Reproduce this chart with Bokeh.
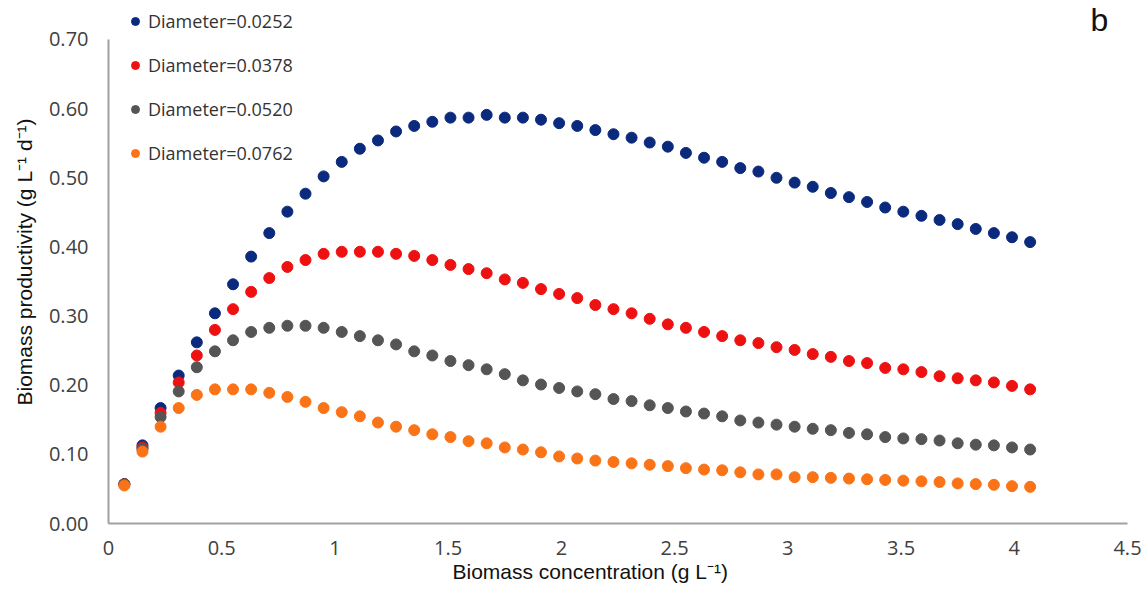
from bokeh.plotting import figure
from bokeh.models import Range1d, FixedTicker, Legend, LegendItem, Label, Title
from bokeh.embed import file_html
from bokeh.resources import INLINE

# ---- data ----
biomass_conc = [0.07, 0.15, 0.23, 0.31, 0.39, 0.47, 0.55, 0.63, 0.71, 0.79,
                0.87, 0.95, 1.03, 1.11, 1.19, 1.27, 1.35, 1.43, 1.51, 1.59,
                1.67, 1.75, 1.83, 1.91, 1.99, 2.07, 2.15, 2.23, 2.31, 2.39,
                2.47, 2.55, 2.63, 2.71, 2.79, 2.87, 2.95, 3.03, 3.11, 3.19,
                3.27, 3.35, 3.43, 3.51, 3.59, 3.67, 3.75, 3.83, 3.91, 3.99,
                4.07]

prod_d0252 = [0.057, 0.113, 0.167, 0.214, 0.262, 0.304, 0.346, 0.386, 0.420, 0.451,
              0.477, 0.502, 0.523, 0.542, 0.554, 0.567, 0.575, 0.581, 0.587, 0.587,
              0.591, 0.587, 0.587, 0.584, 0.579, 0.575, 0.569, 0.563, 0.558, 0.551,
              0.545, 0.536, 0.529, 0.523, 0.514, 0.509, 0.500, 0.493, 0.487, 0.478,
              0.472, 0.465, 0.457, 0.451, 0.445, 0.439, 0.433, 0.426, 0.420, 0.414,
              0.407]

prod_d0378 = [0.057, 0.110, 0.160, 0.204, 0.243, 0.280, 0.310, 0.335, 0.355, 0.371,
              0.381, 0.390, 0.393, 0.393, 0.393, 0.390, 0.387, 0.381, 0.374, 0.368,
              0.362, 0.353, 0.348, 0.339, 0.332, 0.326, 0.316, 0.310, 0.304, 0.296,
              0.288, 0.283, 0.277, 0.271, 0.265, 0.261, 0.255, 0.251, 0.245, 0.241,
              0.235, 0.232, 0.225, 0.223, 0.219, 0.213, 0.210, 0.207, 0.204, 0.199,
              0.194]

prod_d0520 = [0.057, 0.108, 0.154, 0.191, 0.226, 0.249, 0.265, 0.277, 0.283, 0.286,
              0.286, 0.283, 0.277, 0.271, 0.265, 0.259, 0.249, 0.243, 0.235, 0.229,
              0.223, 0.216, 0.207, 0.201, 0.196, 0.191, 0.187, 0.180, 0.177, 0.171,
              0.167, 0.162, 0.159, 0.155, 0.149, 0.146, 0.143, 0.140, 0.137, 0.135,
              0.131, 0.129, 0.125, 0.123, 0.122, 0.120, 0.116, 0.114, 0.113, 0.110,
              0.107]

prod_d0762 = [0.055, 0.104, 0.140, 0.167, 0.186, 0.194, 0.194, 0.194, 0.189, 0.183,
              0.176, 0.167, 0.161, 0.155, 0.146, 0.140, 0.135, 0.129, 0.125, 0.119,
              0.116, 0.110, 0.107, 0.103, 0.097, 0.094, 0.091, 0.089, 0.087, 0.085,
              0.083, 0.080, 0.078, 0.077, 0.074, 0.071, 0.071, 0.067, 0.067, 0.066,
              0.065, 0.064, 0.063, 0.062, 0.061, 0.060, 0.058, 0.057, 0.056, 0.054,
              0.053]

series_labels = ["Diameter=0.0252", "Diameter=0.0378", "Diameter=0.0520", "Diameter=0.0762"]
series_colors = ["#0B2A7E", "#EE1111", "#555555", "#FA7417"]

x_ticks = [0, 0.5, 1, 1.5, 2, 2.5, 3, 3.5, 4, 4.5]
x_tick_labels = ["0", "0.5", "1", "1.5", "2", "2.5", "3", "3.5", "4", "4.5"]
y_ticks = [0.0, 0.1, 0.2, 0.3, 0.4, 0.5, 0.6, 0.7]
y_tick_labels = ["0.00", "0.10", "0.20", "0.30", "0.40", "0.50", "0.60", "0.70"]

x_title = "Biomass concentration (g L\u207b\u00b9)"
y_title = "Biomass productivity (g L\u207b\u00b9 d\u207b\u00b9)"

# ---- figure ----
# frame reaches the top of the canvas so that the legend and panel letter above
# the 0.70 line stay visible; the y axis line itself is bounded to 0..0.70
p = figure(width=1146, height=596, output_backend="svg", toolbar_location=None,
           x_range=Range1d(0, 4.5), y_range=Range1d(0, 0.7564),
           min_border_left=108, min_border_right=19, min_border_top=0, min_border_bottom=73)
p.outline_line_color = None
p.grid.visible = False
p.background_fill_color = "white"
p.border_fill_color = "white"

tick_font = "Open Sans"
for ax in (p.xaxis[0], p.yaxis[0]):
    ax.axis_line_color = "#A0A0A0"
    ax.axis_line_width = 2
    ax.major_tick_line_color = None
    ax.minor_tick_line_color = None
    ax.major_tick_out = 0
    ax.major_tick_in = 0
    ax.major_label_text_font = tick_font
    ax.major_label_text_font_size = "20px"
    ax.major_label_text_color = "#404040"
    ax.axis_label_text_font = "Liberation Sans"
    ax.axis_label_text_font_size = "21px"
    ax.axis_label_text_font_style = "normal"
    ax.axis_label_text_color = "#111111"

p.yaxis.bounds = (0, 0.7)
p.xaxis.ticker = FixedTicker(ticks=x_ticks)
p.xaxis.major_label_overrides = {t: l for t, l in zip(x_ticks, x_tick_labels)}
p.yaxis.ticker = FixedTicker(ticks=y_ticks)
p.yaxis.major_label_overrides = {t: l for t, l in zip(y_ticks, y_tick_labels)}
p.xaxis.major_label_standoff = 17
p.yaxis.major_label_standoff = 20
p.yaxis.axis_label = y_title
p.yaxis.axis_label_standoff = 10

# x axis title as a below-panel title, placed slightly left of centre like the reference
p.add_layout(Title(text=x_title, align="left", offset=344, standoff=0,
                   text_font="Liberation Sans", text_font_size="21px",
                   text_font_style="normal", text_color="#111111"), "below")

series = [prod_d0252, prod_d0378, prod_d0520, prod_d0762]
items = []
for vals, lab, col in zip(series, series_labels, series_colors):
    r = p.scatter(biomass_conc, vals, size=11, fill_color=col, line_color=col, marker="circle")
    items.append(LegendItem(label=lab, renderers=[r]))

legend = Legend(items=items, location=(17, 358), orientation="vertical",
                glyph_width=20, glyph_height=20, label_height=20, spacing=20,
                label_standoff=3, padding=0, margin=0,
                label_text_font="Open Sans", label_text_font_size="18px",
                label_text_color="#333333",
                border_line_color=None, background_fill_alpha=0)
p.add_layout(legend, "center")

p.add_layout(Label(x=982, y=486, x_units="screen", y_units="screen", text="b",
                   text_font="Liberation Sans", text_font_size="32px",
                   text_color="#111111", text_baseline="bottom", text_align="left"))

open("out.html", "w").write(file_html(p, INLINE))
